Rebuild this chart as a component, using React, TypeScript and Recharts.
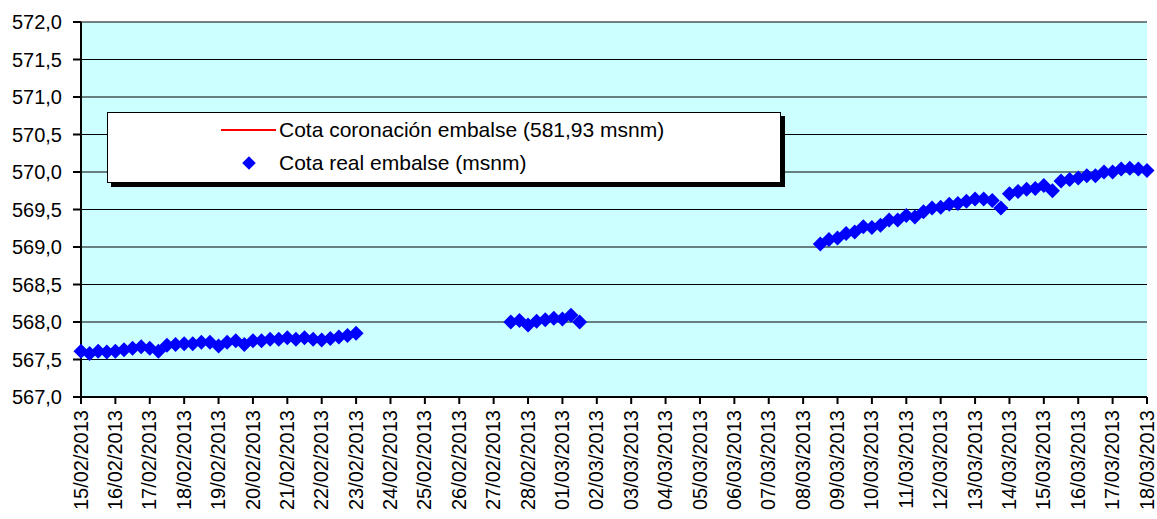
import {
  ScatterChart,
  Scatter,
  XAxis,
  YAxis,
  CartesianGrid,
  ReferenceLine,
  Legend,
} from "recharts";

// Etiquetas del eje de fechas (una por día)
const FECHAS = [
  "15/02/2013", "16/02/2013", "17/02/2013", "18/02/2013", "19/02/2013",
  "20/02/2013", "21/02/2013", "22/02/2013", "23/02/2013", "24/02/2013",
  "25/02/2013", "26/02/2013", "27/02/2013", "28/02/2013", "01/03/2013",
  "02/03/2013", "03/03/2013", "04/03/2013", "05/03/2013", "06/03/2013",
  "07/03/2013", "08/03/2013", "09/03/2013", "10/03/2013", "11/03/2013",
  "12/03/2013", "13/03/2013", "14/03/2013", "15/03/2013", "16/03/2013",
  "17/03/2013", "18/03/2013",
];

const COTAS_EJE = [567, 567.5, 568, 568.5, 569, 569.5, 570, 570.5, 571, 571.5, 572];

// Lecturas cada 6 horas, en tres tramos
const PASO_HORAS = 6;

const INICIO_1 = "15/02/2013 00:00";
const COTA_1 = [
  567.61, 567.58, 567.61, 567.6, 567.61, 567.63, 567.65, 567.67, 567.65, 567.61, 567.69,
  567.7, 567.71, 567.71, 567.73, 567.73, 567.68, 567.73, 567.75, 567.7, 567.75, 567.75,
  567.77, 567.77, 567.79, 567.77, 567.79, 567.77, 567.76, 567.78, 567.8, 567.82, 567.85,
];

const INICIO_2 = "27/02/2013 12:00";
const COTA_2 = [568.0, 568.02, 567.96, 568.01, 568.03, 568.05, 568.04, 568.09, 568.0];

const INICIO_3 = "08/03/2013 12:00";
const COTA_3 = [
  569.04, 569.1, 569.12, 569.18, 569.2, 569.27, 569.26, 569.29, 569.36, 569.36, 569.42,
  569.4, 569.47, 569.52, 569.53, 569.57, 569.58, 569.61, 569.64, 569.64, 569.62, 569.52,
  569.71, 569.74, 569.77, 569.78, 569.82, 569.75, 569.88, 569.9, 569.92, 569.95, 569.95,
  570.0, 570.0, 570.04, 570.05, 570.04, 570.02,
];

const COTA_CORONACION = 581.93;

const LEYENDA = [
  { nombre: "Cota coronación embalse (581,93 msnm)", tipo: "linea", color: "#FF0000" },
  { nombre: "Cota real embalse (msnm)", tipo: "rombo", color: "#0000FF" },
];

const FUENTE = '"Liberation Sans", Arial, sans-serif';
const ORIGEN = Date.UTC(2013, 1, 15);

// "dd/mm/aaaa hh:mm" -> días desde el 15/02/2013
function dia(s: string) {
  const [f, h] = s.split(" ");
  const [d, m, a] = f.split("/").map(Number);
  const [hh, mm] = (h ?? "00:00").split(":").map(Number);
  return (Date.UTC(a, m - 1, d, hh, mm) - ORIGEN) / 86400000;
}

const tramo = (inicio: string, cotas: number[]) =>
  cotas.map((v, i) => ({ t: dia(inicio) + (i * PASO_HORAS) / 24, v }));

const datos = [...tramo(INICIO_1, COTA_1), ...tramo(INICIO_2, COTA_2), ...tramo(INICIO_3, COTA_3)];

const fmtCota = (v: number) => v.toFixed(1).replace(".", ",");

function Rombo({ cx, cy }: { cx?: number; cy?: number }) {
  if (cx == null || cy == null) return null;
  const r = 7.5;
  return (
    <polygon
      points={`${cx},${cy - r} ${cx + r},${cy} ${cx},${cy + r} ${cx - r},${cy}`}
      fill="#0000FF"
    />
  );
}

function TickFecha({ x, y, payload }: { x?: number; y?: number; payload?: { value: number } }) {
  if (x == null || y == null || !payload) return null;
  return (
    <text
      x={x}
      y={y}
      transform={`rotate(-90, ${x}, ${y})`}
      textAnchor="end"
      dy="0.33em"
      fontSize={20}
      fontFamily={FUENTE}
      fill="#000"
    >
      {FECHAS[payload.value]}
    </text>
  );
}

function CajaLeyenda() {
  return (
    <div
      style={{
        position: "absolute",
        left: 107,
        top: 112,
        width: 674,
        height: 71,
        boxSizing: "border-box",
        background: "#fff",
        border: "1px solid #000",
        boxShadow: "4px 4px 0 #000",
        fontFamily: FUENTE,
        fontSize: 21,
        color: "#000",
      }}
    >
      {LEYENDA.map((l, i) => {
        const cy = 17 + i * 33;
        return (
          <div key={l.nombre}>
            {l.tipo === "linea" ? (
              <div
                style={{
                  position: "absolute",
                  left: 113,
                  top: cy - 1,
                  width: 55,
                  height: 2,
                  background: l.color,
                }}
              />
            ) : (
              <div
                style={{
                  position: "absolute",
                  left: 141 - 6,
                  top: cy - 6,
                  width: 12,
                  height: 12,
                  background: l.color,
                  transform: "rotate(45deg) scale(0.8)",
                }}
              />
            )}
            <div
              style={{
                position: "absolute",
                left: 171,
                top: cy - 13,
                lineHeight: "26px",
                whiteSpace: "nowrap",
              }}
            >
              {l.nombre}
            </div>
          </div>
        );
      })}
    </div>
  );
}

export default function App() {
  return (
    <div style={{ position: "absolute", left: 0, top: 0, width: 1157, height: 519, background: "#fff" }}>
      <ScatterChart width={1157} height={519} margin={{ top: 22, right: 10, left: 0, bottom: 0 }}>
        <CartesianGrid
          vertical={false}
          stroke="#000"
          fill="#CCFFFF"
          fillOpacity={1}
        />
        <XAxis
          dataKey="t"
          type="number"
          domain={[0, FECHAS.length - 1]}
          ticks={FECHAS.map((_, i) => i)}
          interval={0}
          height={122}
          axisLine={{ stroke: "#000", strokeWidth: 2 }}
          tickLine={{ stroke: "#000", strokeWidth: 2 }}
          tickSize={7}
          tickMargin={6}
          tick={<TickFecha />}
        />
        <XAxis
          xAxisId="sup"
          orientation="top"
          type="number"
          domain={[0, FECHAS.length - 1]}
          height={0}
          tick={false}
          tickLine={false}
          axisLine={{ stroke: "#000", strokeWidth: 2 }}
        />
        <YAxis
          dataKey="v"
          type="number"
          domain={[567, 572]}
          ticks={COTAS_EJE}
          interval={0}
          width={81}
          tickFormatter={fmtCota}
          axisLine={{ stroke: "#000", strokeWidth: 2 }}
          tickLine={{ stroke: "#000", strokeWidth: 2 }}
          tickSize={8}
          tickMargin={11}
          tick={{ fontSize: 20, fontFamily: FUENTE, fill: "#000" }}
        />
        <YAxis
          yAxisId="der"
          orientation="right"
          type="number"
          domain={[567, 572]}
          width={0}
          tick={false}
          tickLine={false}
          axisLine={{ stroke: "#000", strokeWidth: 2 }}
        />
        <ReferenceLine y={COTA_CORONACION} ifOverflow="discard" stroke="#FF0000" strokeWidth={2} />
        <Scatter
          name="Cota real embalse (msnm)"
          data={datos}
          shape={<Rombo />}
          isAnimationActive={false}
        />
        <Legend content={() => <CajaLeyenda />} wrapperStyle={{ position: "absolute", left: 0, top: 0 }} />
      </ScatterChart>
    </div>
  );
}
